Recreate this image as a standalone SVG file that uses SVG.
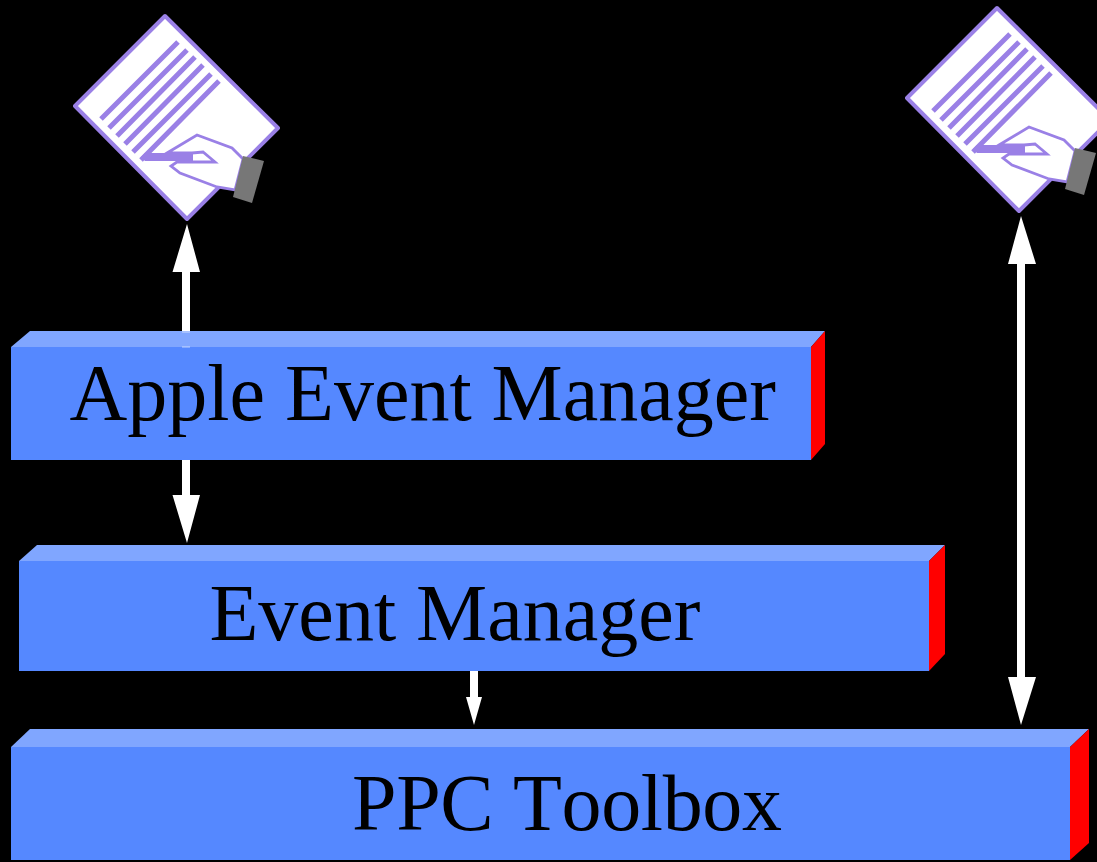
<svg xmlns="http://www.w3.org/2000/svg" width="1097" height="862" viewBox="0 0 1097 862">
<style>
.top{fill:#80a6ff}
.front{fill:#5588ff}
.side{fill:#ff0000}
.label{font-family:"Liberation Serif","Times New Roman",serif;font-size:80px;fill:#000;font-kerning:none}
.arrow{fill:#fff}
.seam{fill:#fff;opacity:.3}
.sheet{fill:#fff;stroke:#9a80e6;stroke-width:4;stroke-linejoin:round}
.rule{stroke:#9a80e6;stroke-width:5;fill:none}
.hand{fill:#fff;stroke:#9a80e6;stroke-width:2.8;stroke-linejoin:miter}
.pencil{fill:#9a80e6}
.sleeve{fill:#777}
</style>
<defs>
<g id="doc">
<path class="sheet" d="M165 16L278 128L187 219L75 106Z"/>
<path class="rule" d="M178 42L101 119M187 50L109 128M195 57L117 136M203 65L125 144M211 74L133 152M219 81L141 160"/>
<path class="hand" d="M167 153L197 135L232 148L243 159L235 190L217 187L180 173L171 166L177 162L215 162L203 152L192 153Z"/>
<path class="pencil" d="M141 157L145 153L193 153V161L145 161Z"/>
<path class="sleeve" d="M243 156L264 161L252 203L233 197Z"/>
</g>
</defs>
<rect width="1097" height="862" fill="#000"/>
<g id="doc-left"><use href="#doc"/></g>
<g id="doc-right"><use href="#doc" transform="translate(832 -8)"/></g>
<g id="apple-event-manager">
<path class="top" d="M11 347L30 331H825L811 347Z"/>
<path class="side" d="M811 347L825 331V444L811 460Z"/>
<rect class="front" x="11" y="347" width="800" height="113"/>
<text class="label" x="69.500" y="420">Apple Event Manager</text>
</g>
<g id="event-manager">
<path class="top" d="M19 561L37 545H945L929 561Z"/>
<path class="side" d="M929 561L945 545V654L929 671Z"/>
<rect class="front" x="19" y="561" width="910" height="110"/>
<text class="label" x="209.500" y="640">Event Manager</text>
</g>
<g id="ppc-toolbox">
<path class="top" d="M11 747L30 729H1089L1070 747Z"/>
<path class="side" d="M1070 747L1089 729V843L1070 860Z"/>
<rect class="front" x="11" y="747" width="1059" height="113"/>
<text class="label" x="352" y="830" textLength="430">PPC Toolbox</text>
</g>
<g id="connectors">
<path class="arrow" d="M182 331V272H172.500L187 224L200 272H190V331Z"/>
<path class="seam" d="M182 331H190V333H182ZM182 346H190V348H182Z"/>
<path class="arrow" d="M182 460V495H172.500L187 543L200 495H190V460Z"/>
<path class="arrow" d="M470 671V697H466L474 725L482 697H478V671Z"/>
<path class="arrow" d="M1017 264H1008L1021 216L1036 264H1025V677H1036L1021 725L1008 677H1017Z"/>
</g>
</svg>
